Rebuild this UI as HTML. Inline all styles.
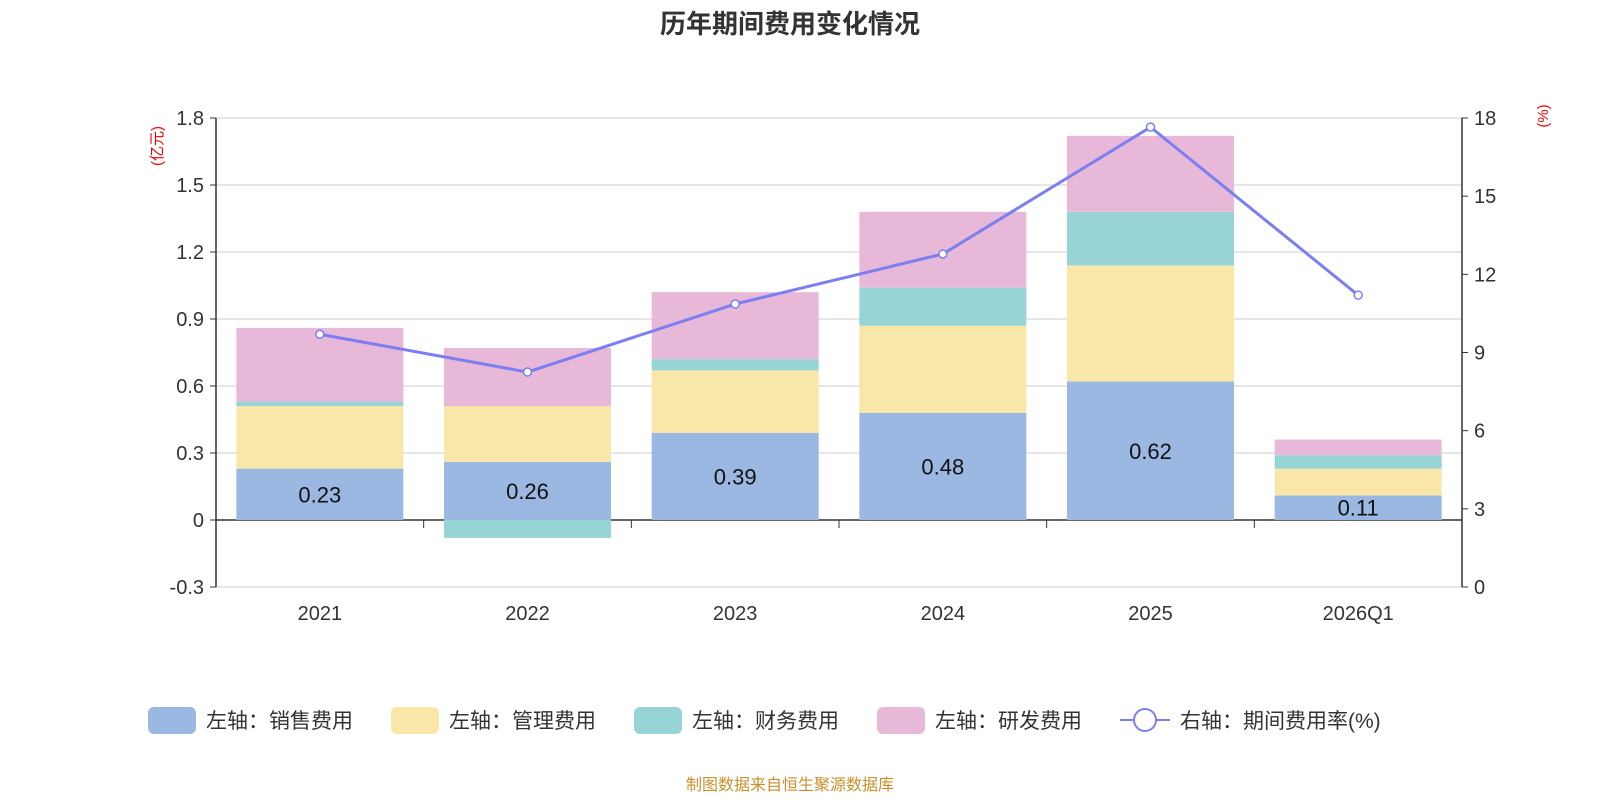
<!DOCTYPE html>
<html><head><meta charset="utf-8"><style>
body{margin:0;background:#fff;}
svg text{font-family:"Liberation Sans","Noto Sans CJK SC",sans-serif;}
</style></head><body>
<svg id="chart" width="1600" height="800" xmlns="http://www.w3.org/2000/svg">
<text x="790" y="33" text-anchor="middle" font-size="26" font-weight="bold" fill="#333">历年期间费用变化情况</text>
<text transform="translate(162,146) rotate(-90)" text-anchor="middle" font-size="15" fill="#e00">(亿元)</text>
<text transform="translate(1548,116) rotate(-90)" text-anchor="middle" font-size="15" fill="#e00">(%)</text>
<g id="grid"></g><g id="bars"></g><g id="axes"></g><g id="line"></g><g id="legend"></g>
<text x="790" y="790" text-anchor="middle" font-size="16" fill="#c9902a">制图数据来自恒生聚源数据库</text>
</svg>
<script>
const categories=["2021","2022","2023","2024","2025","2026Q1"];
const sales=[0.23,0.26,0.39,0.48,0.62,0.11];
const mgmt=[0.28,0.25,0.28,0.39,0.52,0.12];
const fin=[0.02,-0.08,0.05,0.17,0.24,0.06];
const rnd=[0.33,0.26,0.30,0.34,0.34,0.07];
const rate=[9.7,8.25,10.86,12.78,17.65,11.2];
const leftTicks=[-0.3,0,0.3,0.6,0.9,1.2,1.5,1.8];
const rightTicks=[0,3,6,9,12,15,18];
const NS="http://www.w3.org/2000/svg";
const X0=216,X1=1462,bw=(X1-X0)/categories.length;
const yL=v=>520-v*(402/1.8);
const yR=v=>587-v*(469/18);
const xc=i=>X0+bw*(i+0.5);
function mk(p,t,a){const e=document.createElementNS(NS,t);for(const k in a)e.setAttribute(k,a[k]);document.getElementById(p).appendChild(e);return e;}
leftTicks.forEach(t=>{
 const y=yL(t);
 const g=mk("grid","line",{x1:X0,x2:X1,y1:y,y2:y,stroke:t===0?"#333":"#ccc","stroke-width":t===0?1.5:1});
 
 
 const tx=mk("axes","text",{x:X0-12,y:y+7,"text-anchor":"end","font-size":20,fill:"#333"});tx.textContent=t===0?"0":t.toFixed(1);
 
 
 mk("axes","line",{x1:X0-6,x2:X0,y1:y,y2:y,stroke:"#333"});
});
mk("axes","line",{x1:X0,x2:X0,y1:yL(1.8),y2:yL(-0.3),stroke:"#333","stroke-width":1.5});
mk("axes","line",{x1:X1,x2:X1,y1:yR(18),y2:yR(0),stroke:"#333","stroke-width":1.5});
rightTicks.forEach(t=>{const y=yR(t);mk("axes","line",{x1:X1,x2:X1+6,y1:y,y2:y,stroke:"#333"});
 const tx=mk("axes","text",{x:X1+12,y:y+7,"font-size":20,fill:"#333"});tx.textContent=t;
 
 });
const colors=["#9bb8e2","#f8e7a8","#96d4d6","#e7b8d8"];
const series=[sales,mgmt,fin,rnd];
categories.forEach((c,i)=>{
 let pos=0,neg=0;
 series.forEach((s,k)=>{const v=s[i];let a,b;if(v>=0){a=pos;b=pos+v;pos=b;}else{a=neg;b=neg+v;neg=b;}
  const r=mk("bars","rect",{x:xc(i)-83.5,width:167,y:Math.min(yL(a),yL(b)),height:Math.abs(yL(a)-yL(b)),fill:colors[k]});
  
  });
 const lb=mk("bars","text",{x:xc(i),y:(yL(0)+yL(sales[i]))/2+8,"text-anchor":"middle","font-size":22,fill:"#111"});lb.textContent=sales[i].toFixed(2);
 
 
 const tl=mk("axes","text",{x:xc(i),y:620,"text-anchor":"middle","font-size":20,fill:"#333"});tl.textContent=c;
 
 
 if(i>0)mk("axes","line",{x1:X0+bw*i,x2:X0+bw*i,y1:520,y2:528,stroke:"#333"});
});
const pl=mk("line","polyline",{points:rate.map((v,i)=>xc(i)+","+yR(v)).join(" "),fill:"none",stroke:"#7b7ff0","stroke-width":3});


rate.forEach((v,i)=>{const c=mk("line","circle",{cx:xc(i),cy:yR(v),r:4,fill:"#fff",stroke:"#7b7ff0","stroke-width":1.5});
 
 });
const legendNames=["左轴：销售费用","左轴：管理费用","左轴：财务费用","左轴：研发费用"];
const lx=[148,391,634,877];
legendNames.forEach((n,k)=>{
 const r=mk("legend","rect",{x:lx[k],y:707,width:48,height:27,rx:6,fill:colors[k]});
 
 
 const t=mk("legend","text",{x:lx[k]+58,y:728,"font-size":21,fill:"#333"});t.textContent=n;
 
 
});
mk("legend","line",{x1:1120,x2:1170,y1:720,y2:720,stroke:"#7b7ff0","stroke-width":2});
mk("legend","circle",{cx:1145,cy:720,r:11,fill:"#fff",stroke:"#7b7ff0","stroke-width":2});
const lt=mk("legend","text",{x:1180,y:728,"font-size":21,fill:"#333"});lt.textContent="右轴：期间费用率(%)";


</script>
</body></html>
